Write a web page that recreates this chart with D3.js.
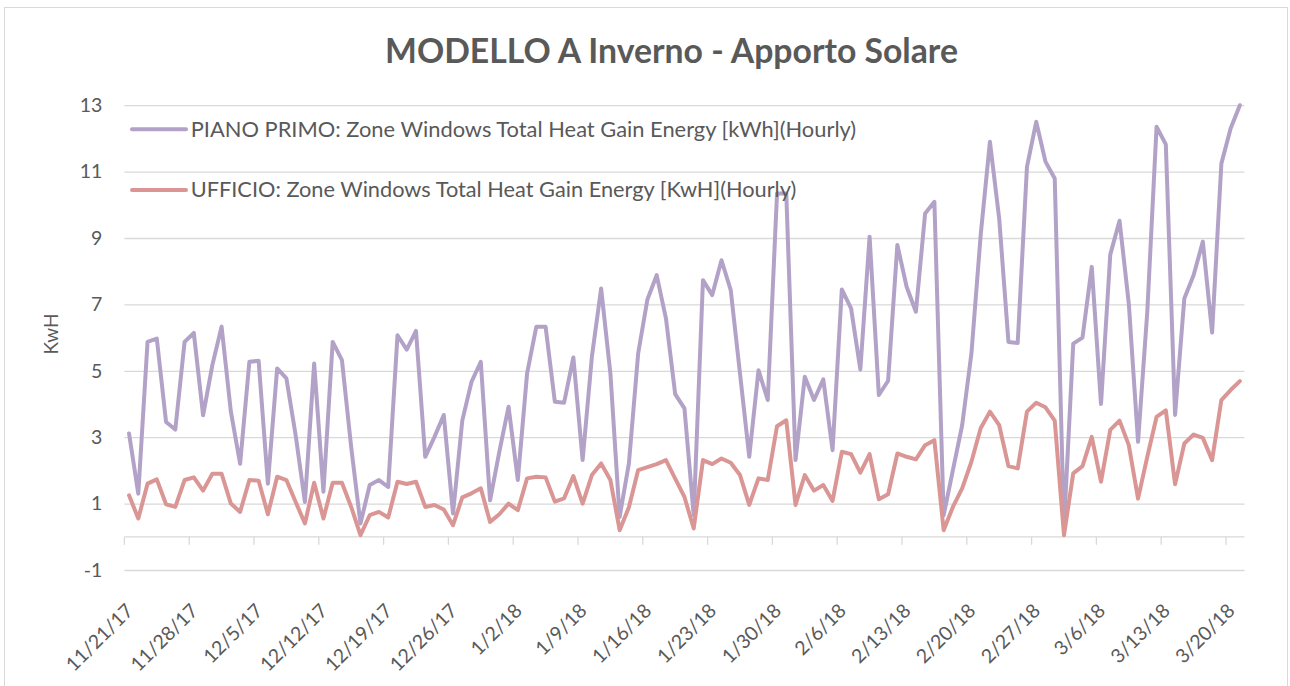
<!DOCTYPE html>
<html>
<head>
<meta charset="utf-8">
<script src="https://cdn.jsdelivr.net/npm/d3@7"></script>
<style>
   body{margin:0;background:#fff;}
   svg text{font-family:Lato, "Open Sans", sans-serif; fill:#595959;}
</style>
</head>
<body>
<svg id="chart" width="1290" height="686"></svg>
<script>
//Daily values, 11/21/17 -> 3/21/18
var startDay = new Date(Date.UTC(2017, 10, 21));
var endDay = new Date(Date.UTC(2018, 2, 22));
var days = d3.utcDay.range(startDay, endDay);

var pianoPrimo = [
   3.11, 1.30, 5.87, 5.97, 3.46, 3.23, 5.87, 6.14, 3.66, 5.17,
   6.33, 3.77, 2.20, 5.27, 5.30, 1.60, 5.07, 4.77, 3.06, 1.05,
   5.22, 1.36, 5.87, 5.32, 2.70, 0.40, 1.56, 1.71, 1.50, 6.07,
   5.64, 6.20, 2.41, 3.01, 3.67, 0.70, 3.50, 4.67, 5.27, 1.10,
   2.56, 3.92, 1.71, 4.92, 6.33, 6.33, 4.07, 4.04, 5.40, 2.31,
   5.42, 7.48, 4.92, 0.60, 2.21, 5.52, 7.15, 7.88, 6.58, 4.30,
   3.87, 0.65, 7.73, 7.28, 8.33, 7.43, 4.92, 2.41, 5.02, 4.12,
   10.34, 10.34, 2.31, 4.82, 4.12, 4.74, 2.61, 7.45, 6.88, 5.04,
   9.04, 4.27, 4.70, 8.79, 7.53, 6.78, 9.74, 10.09, 0.65, 2.01,
   3.36, 5.52, 9.09, 11.90, 9.59, 5.87, 5.84, 11.14, 12.50, 11.30,
   10.79, 0.30, 5.82, 6.00, 8.13, 4.00, 8.50, 9.52, 7.03, 2.86,
   6.78, 12.35, 11.82, 3.67, 7.18, 7.88, 8.89, 6.15, 11.24, 12.30,
   13.00
];

var ufficio = [
   1.25, 0.55, 1.60, 1.73, 0.98, 0.90, 1.71, 1.79, 1.39, 1.90,
   1.90, 1.00, 0.75, 1.71, 1.69, 0.68, 1.81, 1.71, 1.05, 0.40,
   1.63, 0.55, 1.63, 1.63, 0.90, 0.05, 0.65, 0.75, 0.58, 1.66,
   1.59, 1.66, 0.90, 0.96, 0.82, 0.35, 1.19, 1.31, 1.46, 0.45,
   0.68, 1.00, 0.80, 1.76, 1.81, 1.79, 1.06, 1.16, 1.83, 1.00,
   1.86, 2.21, 1.71, 0.20, 0.89, 2.01, 2.10, 2.19, 2.31, 1.75,
   1.20, 0.25, 2.31, 2.19, 2.36, 2.23, 1.86, 0.96, 1.76, 1.71,
   3.33, 3.51, 0.96, 1.86, 1.39, 1.56, 1.08, 2.56, 2.49, 1.93,
   2.49, 1.13, 1.28, 2.51, 2.41, 2.33, 2.76, 2.91, 0.20, 0.90,
   1.46, 2.26, 3.27, 3.77, 3.36, 2.13, 2.06, 3.77, 4.04, 3.90,
   3.50, 0.05, 1.91, 2.13, 3.01, 1.66, 3.22, 3.50, 2.76, 1.15,
   2.41, 3.61, 3.81, 1.58, 2.81, 3.08, 2.98, 2.31, 4.12, 4.42,
   4.69
];

var seriesNames = [
   "PIANO PRIMO: Zone Windows Total Heat Gain Energy [kWh](Hourly)",
   "UFFICIO: Zone Windows Total Heat Gain Energy [KwH](Hourly)"
];
var seriesColors = ["#b3a2c7", "#d99694"];
var yTicks = [-1, 1, 3, 5, 7, 9, 11, 13];
var xTickLabels = ["11/21/17", "11/28/17", "12/5/17", "12/12/17", "12/19/17", "12/26/17",
   "1/2/18", "1/9/18", "1/16/18", "1/23/18", "1/30/18", "2/6/18", "2/13/18", "2/20/18",
   "2/27/18", "3/6/18", "3/13/18", "3/20/18"];
var chartTitle = "MODELLO A Inverno - Apporto Solare";
var yTitle = "KwH";

var graph = {};
graph.svg = d3.select("#chart");
graph.left = 124.4;
graph.right = 1244.5;
graph.top = 105.2;
graph.bottom = 570;
graph.gridColor = "#d9d9d9";

graph.x = d3.scaleUtc().domain([startDay, endDay]).range([graph.left, graph.right]);
graph.y = d3.scaleLinear().domain([-1, 13]).range([graph.bottom, graph.top]);

//day points sit in the middle of their day slot
graph.dayX = function(d){
   return graph.x(d3.utcHour.offset(d, 12));
}

//shrink or grow text to the width it has in the picture
graph.fitText = function(sel, targetWidth){
   var size = parseFloat(sel.style("font-size"));
   var w = sel.node().getComputedTextLength();
   sel.style("font-size", (size * targetWidth / w) + "px");
}

graph.draw = function(){
   var g = this;
   var svg = this.svg;

   svg.append("rect")
      .attr("width", 1290).attr("height", 686)
      .attr("fill", "#fff");
   //outer border
   svg.append("rect")
      .attr("x", 4.5).attr("y", 7.5)
      .attr("width", 1283).attr("height", 700)
      .attr("fill", "none")
      .attr("stroke", this.gridColor);

   //horizontal gridlines + labels (plain hyphen for -1)
   svg.append("g")
      .attr("transform", "translate(" + this.left + ",0)")
      .call(d3.axisLeft(this.y)
         .tickValues(yTicks)
         .tickFormat(function(d){ return String(d); })
         .tickSize(-(this.right - this.left))
         .tickPadding(22))
      .call(function(a){
         a.select(".domain").remove();
         a.selectAll(".tick line").attr("stroke", g.gridColor).attr("stroke-width", 1.3);
         a.selectAll(".tick text")
            .attr("fill", "#595959")
            .style("font-size", "19.5px")
            .style("font-family", "Lato, 'Open Sans', sans-serif");
      });

   //category axis crosses at 0
   var tickDays = days.filter(function(d, i){ return i % 7 == 0; });
   var y0 = this.y(0);
   svg.append("line")
      .attr("x1", this.left).attr("x2", this.right)
      .attr("y1", y0).attr("y2", y0)
      .attr("stroke", this.gridColor).attr("stroke-width", 1.3);
   svg.selectAll("line.xtick")
      .data(tickDays)
      .enter()
      .append("line")
      .attr("class", "xtick")
      .attr("x1", function(d){ return g.x(d); })
      .attr("x2", function(d){ return g.x(d); })
      .attr("y1", y0).attr("y2", y0 + 8)
      .attr("stroke", this.gridColor).attr("stroke-width", 1.3);
   svg.selectAll("text.xlabel")
      .data(tickDays)
      .enter()
      .append("text")
      .attr("class", "xlabel")
      .attr("text-anchor", "end")
      .attr("transform", function(d){ return "translate(" + (g.x(d) + 10) + ",612) rotate(-45)"; })
      .style("font-size", "19.5px")
      .text(function(d, i){ return xTickLabels[i]; });

   //series lines
   var line = d3.line()
      .x(function(d, i){ return g.dayX(days[i]); })
      .y(function(d){ return g.y(d); });
   [pianoPrimo, ufficio].forEach(function(values, k){
      svg.append("path")
         .datum(values)
         .attr("d", line)
         .attr("fill", "none")
         .attr("stroke", seriesColors[k])
         .attr("stroke-width", 4)
         .attr("stroke-linejoin", "round")
         .attr("stroke-linecap", "round");
   });

   //legend
   var legendY = [129.3, 190];
   var legendW = [666, 606];
   seriesNames.forEach(function(name, k){
      svg.append("line")
         .attr("x1", 132).attr("x2", 186)
         .attr("y1", legendY[k]).attr("y2", legendY[k])
         .attr("stroke", seriesColors[k])
         .attr("stroke-width", 4)
         .attr("stroke-linecap", "round");
      var t = svg.append("text")
         .attr("x", 190.7).attr("y", legendY[k] + 7.4)
         .style("font-size", "20px")
         .text(name);
      g.fitText(t, legendW[k]);
   });

   //title
   var title = svg.append("text")
      .attr("x", 671.5).attr("y", 63)
      .attr("text-anchor", "middle")
      .style("font-size", "34px")
      .style("font-weight", "bold")
      .text(chartTitle);
   this.fitText(title, 573);

   //y axis title
   svg.append("text")
      .attr("text-anchor", "middle")
      .attr("transform", "translate(58,334) rotate(-90)")
      .style("font-size", "19px")
      .text(yTitle);
}

graph.draw();
</script>
</body>
</html>
